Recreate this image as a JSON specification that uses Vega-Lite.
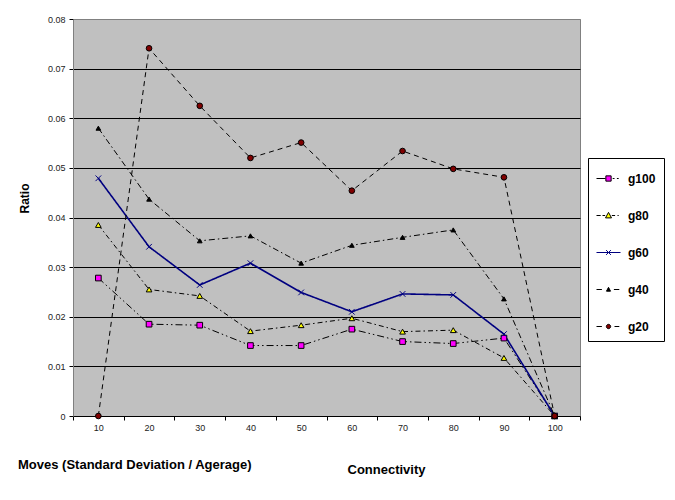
{
  "$schema": "https://vega.github.io/schema/vega-lite/v6.json",
  "autosize": "none",
  "padding": {"left": 73, "top": 19, "right": 95, "bottom": 84},
  "width": 507,
  "height": 397,
  "background": "white",
  "title": {
    "text": "Moves (Standard Deviation / Agerage)",
    "orient": "bottom",
    "anchor": "start",
    "frame": "bounds",
    "offset": -17,
    "font": "Liberation Sans",
    "fontSize": 13,
    "fontWeight": "bold",
    "color": "black"
  },
  "config": {
    "font": "Liberation Sans",
    "view": {"fill": "#C0C0C0", "stroke": "#808080", "strokeWidth": 1},
    "axis": {
      "labelFont": "Liberation Sans",
      "labelFontSize": 9,
      "labelColor": "#222222",
      "titleFont": "Liberation Sans",
      "titleFontWeight": "bold",
      "titleColor": "black",
      "domainColor": "black",
      "tickColor": "black",
      "tickSize": 4
    },
    "legend": {
      "padding": 8,
      "rowPadding": 18,
      "strokeColor": "black",
      "fillColor": "white",
      "symbolSize": 576,
      "symbolStrokeWidth": 1,
      "labelFont": "Liberation Sans",
      "labelFontSize": 12,
      "labelFontWeight": "bold",
      "labelColor": "black",
      "labelOffset": 7
    }
  },
  "data": {
    "values": [
      {"series": "g100", "x": 10, "y": 0.0278},
      {"series": "g100", "x": 20, "y": 0.0185},
      {"series": "g100", "x": 30, "y": 0.0183},
      {"series": "g100", "x": 40, "y": 0.0142},
      {"series": "g100", "x": 50, "y": 0.0142},
      {"series": "g100", "x": 60, "y": 0.0175},
      {"series": "g100", "x": 70, "y": 0.0150},
      {"series": "g100", "x": 80, "y": 0.0146},
      {"series": "g100", "x": 90, "y": 0.0157},
      {"series": "g100", "x": 100, "y": 0.0},
      {"series": "g80", "x": 10, "y": 0.0385},
      {"series": "g80", "x": 20, "y": 0.0255},
      {"series": "g80", "x": 30, "y": 0.0242},
      {"series": "g80", "x": 40, "y": 0.0171},
      {"series": "g80", "x": 50, "y": 0.0183},
      {"series": "g80", "x": 60, "y": 0.0197},
      {"series": "g80", "x": 70, "y": 0.0170},
      {"series": "g80", "x": 80, "y": 0.0173},
      {"series": "g80", "x": 90, "y": 0.0117},
      {"series": "g80", "x": 100, "y": 0.0},
      {"series": "g60", "x": 10, "y": 0.0479},
      {"series": "g60", "x": 20, "y": 0.0341},
      {"series": "g60", "x": 30, "y": 0.0264},
      {"series": "g60", "x": 40, "y": 0.0308},
      {"series": "g60", "x": 50, "y": 0.0249},
      {"series": "g60", "x": 60, "y": 0.0210},
      {"series": "g60", "x": 70, "y": 0.0246},
      {"series": "g60", "x": 80, "y": 0.0244},
      {"series": "g60", "x": 90, "y": 0.0165},
      {"series": "g60", "x": 100, "y": 0.0},
      {"series": "g40", "x": 10, "y": 0.0580},
      {"series": "g40", "x": 20, "y": 0.0437},
      {"series": "g40", "x": 30, "y": 0.0353},
      {"series": "g40", "x": 40, "y": 0.0363},
      {"series": "g40", "x": 50, "y": 0.0308},
      {"series": "g40", "x": 60, "y": 0.0344},
      {"series": "g40", "x": 70, "y": 0.0360},
      {"series": "g40", "x": 80, "y": 0.0375},
      {"series": "g40", "x": 90, "y": 0.0236},
      {"series": "g40", "x": 100, "y": 0.0},
      {"series": "g20", "x": 10, "y": 0.0},
      {"series": "g20", "x": 20, "y": 0.0741},
      {"series": "g20", "x": 30, "y": 0.0625},
      {"series": "g20", "x": 40, "y": 0.0520},
      {"series": "g20", "x": 50, "y": 0.0551},
      {"series": "g20", "x": 60, "y": 0.0454},
      {"series": "g20", "x": 70, "y": 0.0534},
      {"series": "g20", "x": 80, "y": 0.0498},
      {"series": "g20", "x": 90, "y": 0.0481},
      {"series": "g20", "x": 100, "y": 0.0}
    ]
  },
  "encoding": {
    "x": {
      "field": "x",
      "type": "quantitative",
      "scale": {"domain": [5, 105], "nice": false, "zero": false},
      "axis": {
        "title": "Connectivity",
        "titleFontSize": 13,
        "titleX": 313,
        "titleY": 53,
        "titleBaseline": "middle",
        "titleAlign": "center",
        "values": [5, 15, 25, 35, 45, 55, 65, 75, 85, 95, 105],
        "labelExpr": "datum.value < 100 ? format(datum.value + 5, 'd') : ''",
        "labelOffset": 25.35,
        "labelPadding": 3,
        "labelOverlap": false,
        "labelFlush": false,
        "grid": false
      }
    },
    "y": {
      "field": "y",
      "type": "quantitative",
      "scale": {"domain": [0, 0.08], "nice": false},
      "axis": {
        "title": "Ratio",
        "titleFontSize": 12,
        "titleAngle": 270,
        "titleX": -49,
        "titleY": 179,
        "titleAlign": "center",
        "titleBaseline": "middle",
        "values": [0, 0.01, 0.02, 0.03, 0.04, 0.05, 0.06, 0.07, 0.08],
        "format": ".2~f",
        "labelPadding": 4,
        "domainColor": "#808080",
        "grid": true,
        "gridColor": {
          "condition": {"test": "datum.value === 0 || datum.value === 0.08", "value": "#808080"},
          "value": "black"
        },
        "gridWidth": 1,
        "gridOpacity": 1
      }
    }
  },
  "layer": [
    {
      "mark": {"type": "line", "strokeJoin": "miter"},
      "encoding": {
        "detail": {"field": "series"},
        "stroke": {
          "condition": {"test": "datum.series === 'g60'", "value": "#000080"},
          "value": "#000000"
        },
        "strokeDash": {
          "condition": [
            {"test": "datum.series === 'g100'", "value": [7, 3, 1.5, 3, 1.5, 3]},
            {"test": "datum.series === 'g80'", "value": [5, 3, 1.5, 3]},
            {"test": "datum.series === 'g60'", "value": [1, 0]},
            {"test": "datum.series === 'g40'", "value": [6, 3, 1.5, 3]}
          ],
          "value": [5, 4]
        },
        "strokeWidth": {
          "condition": {"test": "datum.series === 'g60'", "value": 1.6},
          "value": 1
        }
      }
    },
    {
      "mark": {"type": "point", "filled": false, "strokeWidth": 1, "opacity": 1},
      "encoding": {
        "shape": {
          "condition": [
            {"test": "datum.series === 'g100'", "value": "square"},
            {"test": "datum.series === 'g80' || datum.series === 'g40'", "value": "triangle-up"},
            {"test": "datum.series === 'g60'", "value": "M-1,-1L1,1M1,-1L-1,1"}
          ],
          "value": "circle"
        },
        "fill": {
          "condition": [
            {"test": "datum.series === 'g100'", "value": "#FF00FF"},
            {"test": "datum.series === 'g80'", "value": "#FFFF00"},
            {"test": "datum.series === 'g60'", "value": "#000080"},
            {"test": "datum.series === 'g40'", "value": "#000000"}
          ],
          "value": "#800000"
        },
        "stroke": {
          "condition": {"test": "datum.series === 'g60'", "value": "#000080"},
          "value": "#000000"
        },
        "size": {
          "condition": {"test": "datum.series === 'g40'", "value": 22},
          "value": 32
        }
      }
    },
    {
      "transform": [{"filter": "datum.x > 1000"}],
      "mark": {"type": "point", "filled": false, "strokeWidth": 1, "opacity": 1},
      "encoding": {
        "shape": {
          "field": "series",
          "type": "nominal",
          "scale": {
            "domain": ["g100", "g80", "g60", "g40", "g20"],
            "range": [
              "M-1,0H-0.25M0.35,0H0.5M0.7,0H0.85M-0.22,-0.22H0.22V0.22H-0.22Z",
              "M-1,0H-0.65M-0.5,0H-0.28M0.28,0H0.55M0.75,0H0.85M0,-0.26L0.25,0.2H-0.25Z",
              "M-1,0H1M-0.2,-0.2L0.2,0.2M0.2,-0.2L-0.2,0.2",
              "M-1,0H-0.55M0.45,0H0.9M0,-0.18L0.17,0.14H-0.17Z",
              "M-1,0H-0.55M0.5,0H0.9M0.18,0A0.18,0.18 0 1,1 -0.18,0A0.18,0.18 0 1,1 0.18,0Z"
            ]
          },
          "legend": {"title": null, "orient": "none", "legendX": 515, "legendY": 139}
        },
        "fill": {
          "field": "series",
          "type": "nominal",
          "scale": {
            "domain": ["g100", "g80", "g60", "g40", "g20"],
            "range": ["#FF00FF", "#FFFF00", "#000080", "#000000", "#800000"]
          },
          "legend": {"title": null, "orient": "none", "legendX": 515, "legendY": 139}
        },
        "stroke": {
          "field": "series",
          "type": "nominal",
          "scale": {
            "domain": ["g100", "g80", "g60", "g40", "g20"],
            "range": ["#000000", "#000000", "#000080", "#000000", "#000000"]
          },
          "legend": {"title": null, "orient": "none", "legendX": 515, "legendY": 139}
        }
      }
    }
  ]
}
